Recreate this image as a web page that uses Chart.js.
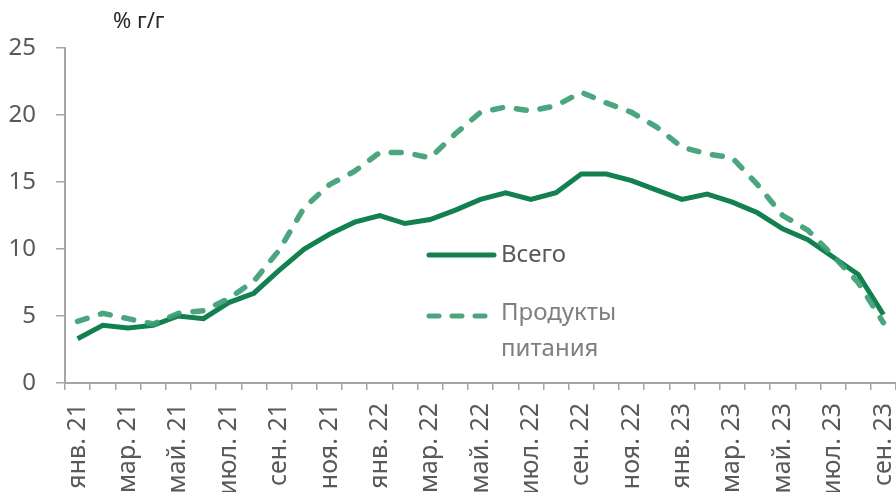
<!DOCTYPE html>
<html>
<head>
<meta charset="utf-8">
<script src="https://cdn.jsdelivr.net/npm/chart.js@4"></script>
<style>
  html, body { margin: 0; padding: 0; background: #fff; }
</style>
</head>
<body>
<canvas id="myChart" width="896" height="492"></canvas>
<script>
const months = [
  'янв. 21', 'фев. 21', 'мар. 21', 'апр. 21', 'май. 21', 'июн. 21',
  'июл. 21', 'авг. 21', 'сен. 21', 'окт. 21', 'ноя. 21', 'дек. 21',
  'янв. 22', 'фев. 22', 'мар. 22', 'апр. 22', 'май. 22', 'июн. 22',
  'июл. 22', 'авг. 22', 'сен. 22', 'окт. 22', 'ноя. 22', 'дек. 22',
  'янв. 23', 'фев. 23', 'мар. 23', 'апр. 23', 'май. 23', 'июн. 23',
  'июл. 23', 'авг. 23', 'сен. 23'
];
const total = [
  3.3, 4.3, 4.1, 4.3, 5.0, 4.8, 6.0, 6.7, 8.4, 10.0, 11.1, 12.0,
  12.5, 11.9, 12.2, 12.9, 13.7, 14.2, 13.7, 14.2, 15.6, 15.6, 15.1, 14.4,
  13.7, 14.1, 13.5, 12.7, 11.5, 10.7, 9.4, 8.1, 5.1
];
const food = [
  4.6, 5.2, 4.8, 4.4, 5.2, 5.4, 6.3, 7.6, 9.9, 13.1, 14.8, 15.8,
  17.2, 17.2, 16.8, 18.6, 20.2, 20.6, 20.3, 20.7, 21.7, 20.9, 20.2, 19.1,
  17.6, 17.1, 16.8, 14.8, 12.5, 11.4, 9.5, 7.5, 4.5
];
const yTicks = [0, 5, 10, 15, 20, 25];

const FONT = '"Noto Sans", "Open Sans", sans-serif';

// legend + unit label drawn on the canvas
const extras = {
  id: 'extras',
  afterDatasetsDraw(chart) {
    const c = chart.ctx;
    c.save();
    c.font = '22px ' + FONT;
    c.fillStyle = '#262626';
    c.textBaseline = 'middle';
    c.textAlign = 'left';
    c.fillText('% г/г', 113, 22);

    c.lineWidth = 5;
    c.lineCap = 'round';
    c.strokeStyle = '#13804f';
    c.beginPath();
    c.moveTo(429, 255);
    c.lineTo(494, 255);
    c.stroke();

    c.strokeStyle = '#4ca57f';
    c.setLineDash([10, 13]);
    c.beginPath();
    c.moveTo(429, 316);
    c.lineTo(494, 316);
    c.stroke();
    c.setLineDash([]);

    c.font = '24px ' + FONT;
    c.fillStyle = '#595959';
    c.fillText('Всего', 501, 255);
    c.fillStyle = '#7f7f7f';
    c.fillText('Продукты', 501, 313);
    c.fillText('питания', 501, 349);
    c.restore();
  }
};

const ctx = document.getElementById('myChart').getContext('2d');
const myChart = new Chart(ctx, {
  type: 'line',
  data: {
    labels: months,
    datasets: [{
      label: 'Всего',
      data: total,
      borderColor: '#13804f',
      borderWidth: 5,
      pointRadius: 0,
      tension: 0,
      order: 2
    }, {
      label: 'Продукты питания',
      data: food,
      borderColor: 'rgba(60,158,116,0.92)',
      borderWidth: 5.5,
      borderDash: [10, 14],
      borderCapStyle: 'round',
      pointRadius: 0,
      tension: 0,
      order: 1
    }]
  },
  options: {
    responsive: false,
    animation: false,
    layout: { padding: { top: 48, left: 0, right: 0, bottom: 0 } },
    plugins: { legend: { display: false }, tooltip: { enabled: false } },
    scales: {
      x: {
        offset: true,
        grid: { offset: true, drawOnChartArea: false, drawTicks: true, tickLength: 7, color: '#a6a6a6', lineWidth: 1.5 },
        border: { color: '#a6a6a6', width: 2 },
        ticks: {
          autoSkip: false,
          minRotation: 90,
          maxRotation: 90,
          padding: 13,
          color: '#595959',
          font: { family: FONT, size: 25 },
          callback: function (v, i) { return i % 2 === 0 ? this.getLabelForValue(v) : ''; }
        },
        afterFit(scale) {
          scale.height = 109;
          scale.paddingLeft = 0;
          scale.paddingRight = 0;
        }
      },
      y: {
        min: 0,
        max: 25,
        afterBuildTicks(scale) { scale.ticks = yTicks.map(v => ({ value: v })); },
        grid: { drawOnChartArea: false, drawTicks: true, tickLength: 9, color: '#a6a6a6', lineWidth: 1.5 },
        border: { color: '#a6a6a6', width: 2 },
        ticks: {
          padding: 20,
          color: '#595959',
          font: { family: FONT, size: 24 }
        },
        afterFit(scale) { scale.width = 65; }
      }
    }
  },
  plugins: [extras]
});
</script>
</body>
</html>
